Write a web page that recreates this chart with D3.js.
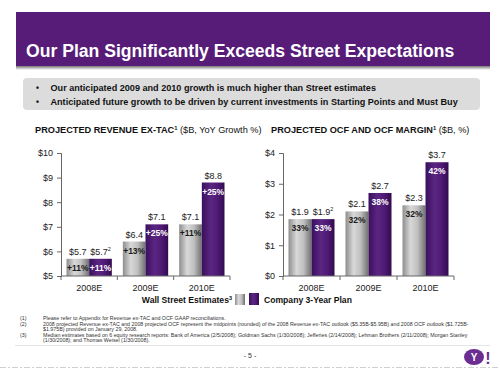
<!DOCTYPE html>
<html>
<head>
<meta charset="utf-8">
<script src="https://cdn.jsdelivr.net/npm/d3@7"></script>
<style>
  body { margin: 0; background: #fff; }
  svg { display: block; font-family: "Liberation Sans", Arial, sans-serif; }
</style>
</head>
<body>
<script>
// --- data ---
const YEARS = ["2008E", "2009E", "2010E"];

const REV_STREET = [5.7, 6.4, 7.1];
const REV_PLAN = [5.7, 7.1, 8.8];
const REV_STREET_LABELS = ["$5.7", "$6.4", "$7.1"];
const REV_PLAN_LABELS = ["$5.7", "$7.1", "$8.8"];
const REV_STREET_GROWTH = ["+11%", "+13%", "+11%"];
const REV_PLAN_GROWTH = ["+11%", "+25%", "+25%"];
const REV_TICKS = [5, 6, 7, 8, 9, 10];

const OCF_STREET = [1.85, 2.1, 2.3];
const OCF_PLAN = [1.85, 2.7, 3.7];
const OCF_STREET_LABELS = ["$1.9", "$2.1", "$2.3"];
const OCF_PLAN_LABELS = ["$1.9", "$2.7", "$3.7"];
const OCF_STREET_MARGIN = ["33%", "32%", "32%"];
const OCF_PLAN_MARGIN = ["33%", "38%", "42%"];
const OCF_TICKS = [0, 1, 2, 3, 4];

const BULLETS = [
  "Our anticipated 2009 and 2010 growth is much higher than Street estimates",
  "Anticipated future growth to be driven by current investments in Starting Points and Must Buy"
];

const FOOTNOTES = [
  ["(1)", ["Please refer to Appendix for Revenue ex-TAC and OCF GAAP reconciliations."]],
  ["(2)", ["2008 projected Revenue ex-TAC and 2008 projected OCF represent the midpoints (rounded) of the 2008 Revenue ex-TAC outlook ($5.35B-$5.95B) and 2008 OCF outlook ($1.725B-",
           "$1.975B) provided on January 29, 2008."]],
  ["(3)", ["Median estimates based on 6 equity research reports: Bank of America (2/5/2008); Goldman Sachs (1/30/2008); Jefferies (2/14/2008); Lehman Brothers (2/11/2008); Morgan Stanley",
           "(1/30/2008); and Thomas Weisel (1/30/2008)."]]
];

const width = 500, height = 370;

const svg = d3.select("body")
  .append("svg")
  .attr("width", width)
  .attr("height", height);

const defs = svg.append("defs");

const grayGrad = defs.append("linearGradient").attr("id", "grayGrad");
[[0, "#8e8e8e"], [0.35, "#d8d8d8"], [0.65, "#c0c0c0"], [1, "#707070"]]
  .forEach(s => grayGrad.append("stop").attr("offset", s[0]).attr("stop-color", s[1]));

const purpGrad = defs.append("linearGradient").attr("id", "purpGrad");
[[0, "#3a0f5c"], [0.4, "#5b2683"], [0.7, "#4e1a74"], [1, "#320b50"]]
  .forEach(s => purpGrad.append("stop").attr("offset", s[0]).attr("stop-color", s[1]));

const shadowGrad = defs.append("linearGradient")
  .attr("id", "shadowGrad")
  .attr("x1", 0).attr("y1", 0).attr("x2", 0).attr("y2", 1);
[[0, "#555"], [1, "#fff"]]
  .forEach(s => shadowGrad.append("stop").attr("offset", s[0]).attr("stop-color", s[1]));

// header band
svg.append("rect")
  .attr("x", 16).attr("y", 65).attr("width", 474).attr("height", 5)
  .attr("fill", "url(#shadowGrad)");
svg.append("rect")
  .attr("x", 16).attr("y", 12).attr("width", 474).attr("height", 54)
  .attr("fill", "#561c78");
svg.append("text")
  .attr("x", 26).attr("y", 57)
  .attr("fill", "#fff")
  .attr("font-size", 17.6)
  .attr("font-weight", "bold")
  .text("Our Plan Significantly Exceeds Street Expectations");

// bullet box
svg.append("rect")
  .attr("x", 23).attr("y", 78).attr("width", 457).attr("height", 32)
  .attr("rx", 4)
  .attr("fill", "#dcdcdc");

BULLETS.forEach((b, i) => {
  svg.append("text")
    .attr("x", 36).attr("y", 90.5 + i * 14)
    .attr("font-size", 8.5).attr("font-weight", "bold").attr("fill", "#111")
    .text("•");
  svg.append("text")
    .attr("x", 50.5).attr("y", 90.5 + i * 14)
    .attr("font-size", 9.1).attr("font-weight", "bold").attr("fill", "#111")
    .text(b);
});

// chart titles
function chartTitle(x, bold, rest) {
  const t = svg.append("text")
    .attr("x", x).attr("y", 133)
    .attr("font-size", 9.2).attr("fill", "#111");
  t.append("tspan").attr("font-weight", "bold").text(bold);
  t.append("tspan").attr("font-size", 5.8).attr("dy", -3).attr("font-weight", "bold").text("1");
  t.append("tspan").attr("dy", 3).text(" " + rest);
}
chartTitle(35, "PROJECTED REVENUE EX-TAC", "($B, YoY Growth %)");
chartTitle(271, "PROJECTED OCF AND OCF MARGIN", "($B, %)");

function drawChart(cfg) {
  const g = svg.append("g");

  const x = d3.scaleBand()
    .domain(YEARS)
    .range(cfg.xRange);

  const sub = d3.scaleBand()
    .domain(["street", "plan"])
    .range([5.5, x.bandwidth() - 5.5]);

  const y = d3.scaleLinear()
    .domain(cfg.domain)
    .range([276, 153]);

  // y axis
  const yAxis = d3.axisLeft(y)
    .tickValues(cfg.ticks)
    .tickSize(4)
    .tickPadding(4)
    .tickFormat(d => "$" + d);
  const ya = g.append("g")
    .attr("transform", `translate(${cfg.xRange[0]},0)`)
    .call(yAxis);
  ya.select(".domain").attr("stroke", "#666");
  ya.selectAll(".tick line").attr("stroke", "#666");
  ya.selectAll(".tick text")
    .attr("font-size", 9).attr("fill", "#222")
    .attr("font-family", "Liberation Sans, Arial, sans-serif");

  const rows = YEARS.map((yr, i) => ({
    yr,
    vals: [
      { key: "street", v: cfg.street[i], label: cfg.streetLabels[i], inner: cfg.streetInner[i], sup: cfg.streetSup[i] },
      { key: "plan", v: cfg.plan[i], label: cfg.planLabels[i], inner: cfg.planInner[i], sup: cfg.planSup[i] }
    ]
  }));

  const groups = g.selectAll(".grp")
    .data(rows)
    .enter()
    .append("g")
    .attr("class", "grp")
    .attr("transform", d => `translate(${x(d.yr)},0)`);

  const bars = groups.selectAll(".bar")
    .data(d => d.vals)
    .enter()
    .append("g");

  bars.append("rect")
    .attr("x", d => sub(d.key))
    .attr("y", d => y(d.v))
    .attr("width", sub.bandwidth())
    .attr("height", d => y(cfg.domain[0]) - y(d.v))
    .attr("fill", d => d.key === "street" ? "url(#grayGrad)" : "url(#purpGrad)");

  const lbl = bars.append("text")
    .attr("x", d => sub(d.key) + sub.bandwidth() / 2)
    .attr("y", d => y(d.v) - 4)
    .attr("text-anchor", "middle")
    .attr("font-size", 9).attr("fill", "#222");
  lbl.append("tspan").text(d => d.label);
  lbl.filter(d => d.sup)
    .append("tspan").attr("font-size", 5.5).attr("dy", -4).text(d => d.sup);

  bars.append("text")
    .attr("x", d => sub(d.key) + sub.bandwidth() / 2)
    .attr("y", d => y(d.v) + 12)
    .attr("text-anchor", "middle")
    .attr("font-size", 8.5).attr("font-weight", "bold")
    .attr("fill", d => d.key === "street" ? "#1a1a1a" : "#fff")
    .text(d => d.inner);

  // x axis baseline with category boundary ticks
  const base = y(cfg.domain[0]);
  g.append("line")
    .attr("x1", cfg.xRange[0]).attr("x2", cfg.xRange[1])
    .attr("y1", base).attr("y2", base)
    .attr("stroke", "#666");
  const bounds = YEARS.map(d => x(d)).concat([x(YEARS[YEARS.length - 1]) + x.bandwidth()]);
  g.selectAll(".bt")
    .data(bounds)
    .enter()
    .append("line")
    .attr("x1", d => d).attr("x2", d => d)
    .attr("y1", base).attr("y2", base + 4)
    .attr("stroke", "#666");

  g.selectAll(".xl")
    .data(YEARS)
    .enter()
    .append("text")
    .attr("x", d => x(d) + x.bandwidth() / 2)
    .attr("y", 291)
    .attr("text-anchor", "middle")
    .attr("font-size", 9).attr("fill", "#222")
    .text(d => d);
}

drawChart({
  xRange: [61, 230],
  domain: [5, 10],
  ticks: REV_TICKS,
  street: REV_STREET, plan: REV_PLAN,
  streetLabels: REV_STREET_LABELS, planLabels: REV_PLAN_LABELS,
  streetInner: REV_STREET_GROWTH, planInner: REV_PLAN_GROWTH,
  streetSup: [null, null, null], planSup: ["2", null, null]
});

drawChart({
  xRange: [283, 454],
  domain: [0, 4],
  ticks: OCF_TICKS,
  street: OCF_STREET, plan: OCF_PLAN,
  streetLabels: OCF_STREET_LABELS, planLabels: OCF_PLAN_LABELS,
  streetInner: OCF_STREET_MARGIN, planInner: OCF_PLAN_MARGIN,
  streetSup: [null, null, null], planSup: ["2", null, null]
});

// legend
svg.append("text")
  .attr("x", 232).attr("y", 303)
  .attr("text-anchor", "end")
  .attr("font-size", 8.6).attr("font-weight", "bold").attr("fill", "#111")
  .text("Wall Street Estimates")
  .append("tspan").attr("font-size", 5.5).attr("dy", -3).text("3");
svg.append("rect")
  .attr("x", 235).attr("y", 294).attr("width", 10).attr("height", 11)
  .attr("fill", "url(#grayGrad)");
svg.append("rect")
  .attr("x", 249).attr("y", 293).attr("width", 10).attr("height", 12)
  .attr("fill", "url(#purpGrad)");
svg.append("text")
  .attr("x", 264).attr("y", 303)
  .attr("font-size", 8.6).attr("font-weight", "bold").attr("fill", "#111")
  .text("Company 3-Year Plan");

// footnotes
let fy = 320;
FOOTNOTES.forEach(f => {
  svg.append("text")
    .attr("x", 20).attr("y", fy)
    .attr("font-size", 5.3).attr("fill", "#333")
    .text(f[0]);
  f[1].forEach(line => {
    svg.append("text")
      .attr("x", 43).attr("y", fy)
      .attr("font-size", 5.3).attr("fill", "#333")
      .text(line);
    fy += 5.5;
  });
});

// footer
svg.append("line")
  .attr("x1", 15).attr("x2", 490).attr("y1", 345.5).attr("y2", 345.5)
  .attr("stroke", "#e4e4e4");
svg.append("text")
  .attr("x", 250).attr("y", 358)
  .attr("text-anchor", "middle")
  .attr("font-size", 7).attr("fill", "#333")
  .text("- 5 -");
svg.append("line")
  .attr("x1", 0).attr("x2", 500).attr("y1", 367.5).attr("y2", 367.5)
  .attr("stroke", "#d0d0d0").attr("stroke-dasharray", "6,2,2,2");

// yahoo mark
svg.append("ellipse")
  .attr("cx", 474).attr("cy", 357).attr("rx", 10).attr("ry", 8)
  .attr("fill", "#6b2d91");
svg.append("text")
  .attr("x", 474).attr("y", 361)
  .attr("text-anchor", "middle")
  .attr("font-size", 10).attr("font-weight", "bold").attr("fill", "#fff")
  .text("Y");
svg.append("text")
  .attr("x", 488).attr("y", 364)
  .attr("text-anchor", "middle")
  .attr("font-size", 16).attr("font-weight", "bold").attr("fill", "#6b2d91")
  .text("!");
</script>
</body>
</html>
